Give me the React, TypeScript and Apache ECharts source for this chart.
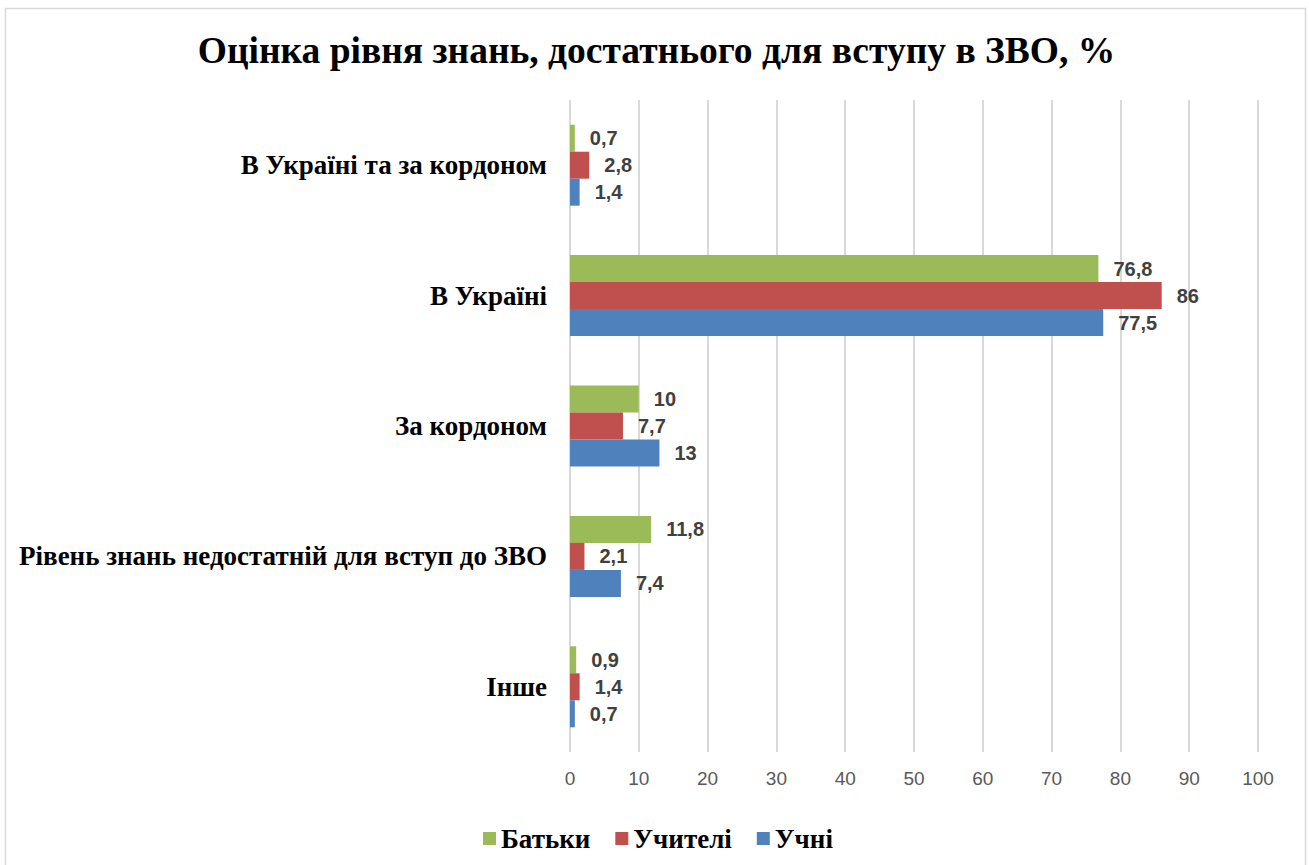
import React, { useEffect, useRef } from "react";
import * as echarts from "echarts";

const categories = [
  "В Україні та за кордоном",
  "В Україні",
  "За кордоном",
  "Рівень знань недостатній для вступ до ЗВО",
  "Інше",
];
const seriesNames = ["Батьки", "Учителі", "Учні"];
const parents = [0.7, 76.8, 10, 11.8, 0.9];
const teachers = [2.8, 86, 7.7, 2.1, 1.4];
const students = [1.4, 77.5, 13, 7.4, 0.7];
const colors = ["#9BBB59", "#C0504D", "#4F81BD"];
const xTicks = { min: 0, max: 100, interval: 10 };
const titleText = "Оцінка рівня знань, достатнього для вступу в ЗВО, %";

const SANS = "Liberation Sans";

export default function App() {
  const ref = useRef<HTMLDivElement>(null);
  useEffect(() => {
    if (!ref.current) return;
    const chart = echarts.init(ref.current, null, { renderer: "svg" });
    const values = [parents, teachers, students];
    chart.setOption({
      animation: false,
      backgroundColor: "#ffffff",
      graphic: [
        {
          type: "rect",
          shape: { x: 5.5, y: 8.5, width: 1300, height: 880 },
          style: { fill: "none", stroke: "#d9d9d9", lineWidth: 1.5 },
          silent: true,
        },
        {
          type: "text",
          x: 656.5,
          y: 31,
          style: {
            text: titleText,
            font: "bold 37.5px Liberation Serif",
            fill: "#000",
            align: "center",
          },
        },
      ],
      legend: {
        data: seriesNames,
        left: 478,
        top: 820,
        icon: "rect",
        itemWidth: 13,
        itemHeight: 13,
        itemGap: 25,
        textStyle: { fontFamily: "Times New Roman", fontWeight: "bold", fontSize: 27, color: "#000" },
      },
      grid: { left: 570, right: 51, top: 100, bottom: 113, containLabel: false, outerBoundsMode: "none" },
      xAxis: {
        type: "value",
        min: xTicks.min,
        max: xTicks.max,
        interval: xTicks.interval,
        axisLine: { show: false },
        axisTick: { show: false },
        splitLine: { show: true, lineStyle: { color: "#d9d9d9", width: 2 } },
        axisLabel: { color: "#595959", fontFamily: SANS, fontSize: 19, margin: 17 },
      },
      yAxis: {
        type: "category",
        inverse: true,
        data: categories,
        axisLine: { show: false },
        axisTick: { show: false },
        axisLabel: { color: "#000", fontFamily: "serif", fontWeight: "bold", fontSize: 27, margin: 23 },
      },
      series: seriesNames.map((name, i) => ({
        name,
        type: "bar",
        data: values[i],
        barWidth: 27,
        barGap: "0%",
        itemStyle: { color: colors[i] },
        label: {
          show: true,
          position: "right",
          distance: 15,
          color: "#404040",
          fontFamily: SANS,
          fontWeight: "bold",
          fontSize: 20,
          formatter: (p: any) => String(p.value).replace(".", ","),
        },
      })),
    });
    return () => chart.dispose();
  }, []);
  return (
    <div
      ref={ref}
      style={{ position: "absolute", left: 0, top: 0, width: 1309, height: 865 }}
    />
  );
}
